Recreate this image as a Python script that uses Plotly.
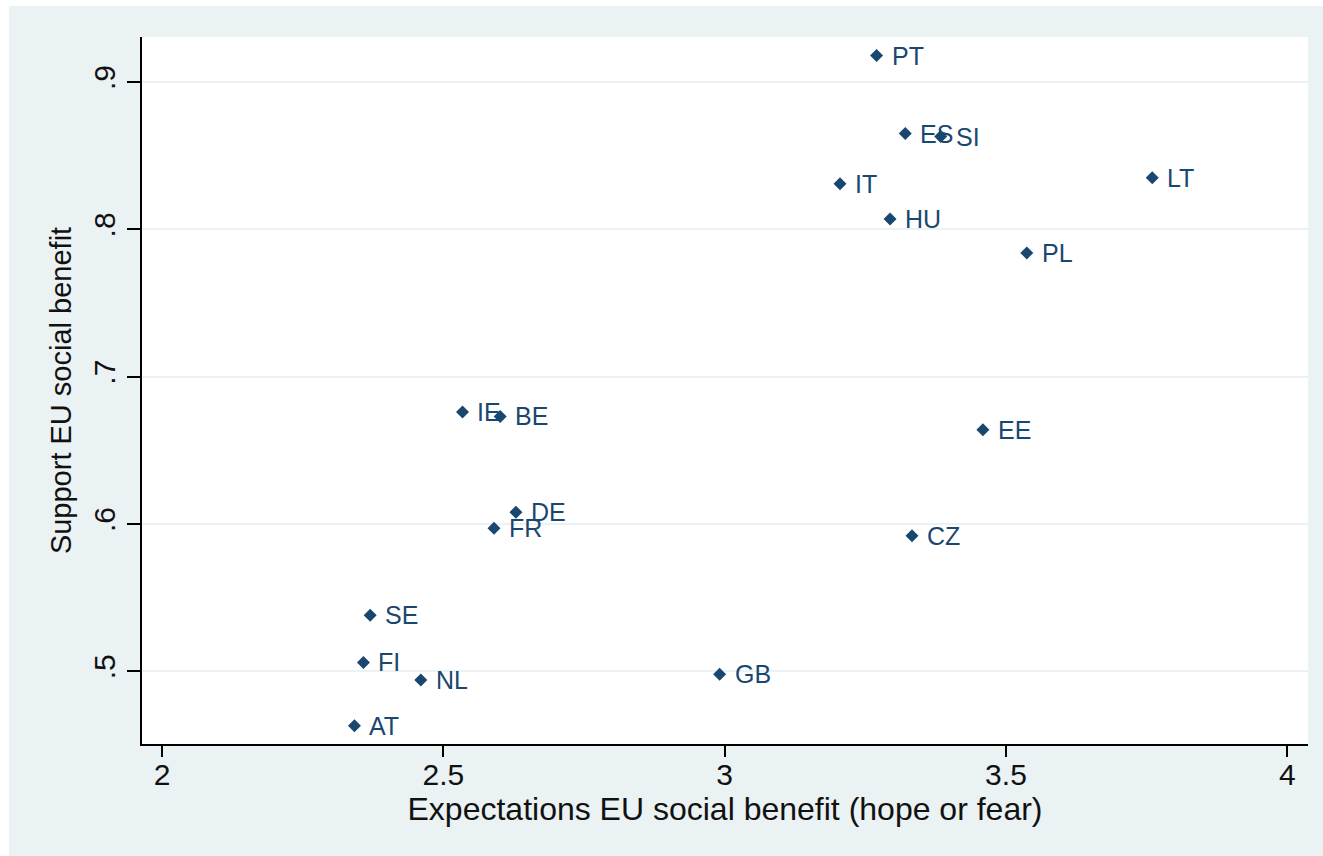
import plotly.graph_objects as go

# Country averages: expectations of an EU social benefit vs. support for it
countries = ["PT", "ES", "SI", "IT", "LT", "HU", "PL", "IE", "BE", "EE",
             "DE", "FR", "CZ", "SE", "FI", "NL", "GB", "AT"]
expectations = [3.270, 3.321, 3.384, 3.205, 3.760, 3.294, 3.537, 2.534, 2.601, 3.459,
                2.629, 2.590, 3.333, 2.370, 2.358, 2.460, 2.991, 2.342]
support = [0.918, 0.865, 0.863, 0.831, 0.835, 0.807, 0.784, 0.676, 0.673, 0.664,
           0.608, 0.597, 0.592, 0.538, 0.506, 0.494, 0.498, 0.463]

x_ticks = [2, 2.5, 3, 3.5, 4]
x_tick_text = ["2", "2.5", "3", "3.5", "4"]
y_ticks = [0.5, 0.6, 0.7, 0.8, 0.9]
y_tick_text = [".5", ".6", ".7", ".8", ".9"]

NAVY = "#1a476f"
BG = "#eaf2f3"
FONT = "Liberation Sans, Arial, sans-serif"

fig = go.Figure()
fig.add_trace(go.Scatter(
    x=expectations, y=support, mode="markers",
    marker=dict(symbol="diamond", size=10, color=NAVY, line=dict(width=0)),
    hoverinfo="skip", showlegend=False,
))

# Country codes to the right of each marker
for c, xv, yv in zip(countries, expectations, support):
    fig.add_annotation(x=xv, y=yv, text=c, showarrow=False,
                       xanchor="left", yanchor="middle", xshift=13, yshift=0,
                       font=dict(family=FONT, size=25, color=NAVY))

W, H = 1323, 856
L, R, T, B = 142, 15, 37, 112
pw, ph = W - L - R, H - T - B

# White strips at the left and top edges of the page
fig.add_shape(type="rect", xref="paper", yref="paper",
              x0=-L / pw - 0.01, x1=(9 - L) / pw, y0=-B / ph - 0.01, y1=1 + T / ph + 0.01,
              fillcolor="white", line=dict(width=0), layer="below")
fig.add_shape(type="rect", xref="paper", yref="paper",
              x0=-L / pw - 0.01, x1=1 + R / pw + 0.01, y0=1 + (T - 6) / ph, y1=1 + T / ph + 0.01,
              fillcolor="white", line=dict(width=0), layer="below")

fig.update_layout(
    width=W, height=H,
    margin=dict(l=L, r=R, t=T, b=B, pad=0),
    paper_bgcolor=BG, plot_bgcolor="white",
    font=dict(family=FONT, color="#111111"),
    xaxis=dict(
        range=[1.9644, 4.0368], tickvals=x_ticks, ticktext=x_tick_text,
        showgrid=False, zeroline=False,
        showline=True, linecolor="black", linewidth=2,
        ticks="outside", ticklen=11, tickwidth=2, tickcolor="black",
        ticklabelstandoff=-8,
        tickfont=dict(size=30, family=FONT, color="#111111"),
        title=dict(text="Expectations EU social benefit (hope or fear)",
                   font=dict(size=32, family=FONT, color="#111111"), standoff=2),
    ),
    yaxis=dict(
        range=[0.4506, 0.9306], tickvals=y_ticks, ticktext=y_tick_text,
        tickangle=-90,
        showgrid=True, gridcolor=BG, gridwidth=2, zeroline=False,
        showline=True, linecolor="black", linewidth=2,
        ticks="outside", ticklen=13, tickwidth=2, tickcolor="black",
        tickfont=dict(size=30, family=FONT, color="#111111"),
        title=dict(text="Support EU social benefit",
                   font=dict(size=29, family=FONT, color="#111111"), standoff=8),
    ),
)

fig.write_html("out.html")
